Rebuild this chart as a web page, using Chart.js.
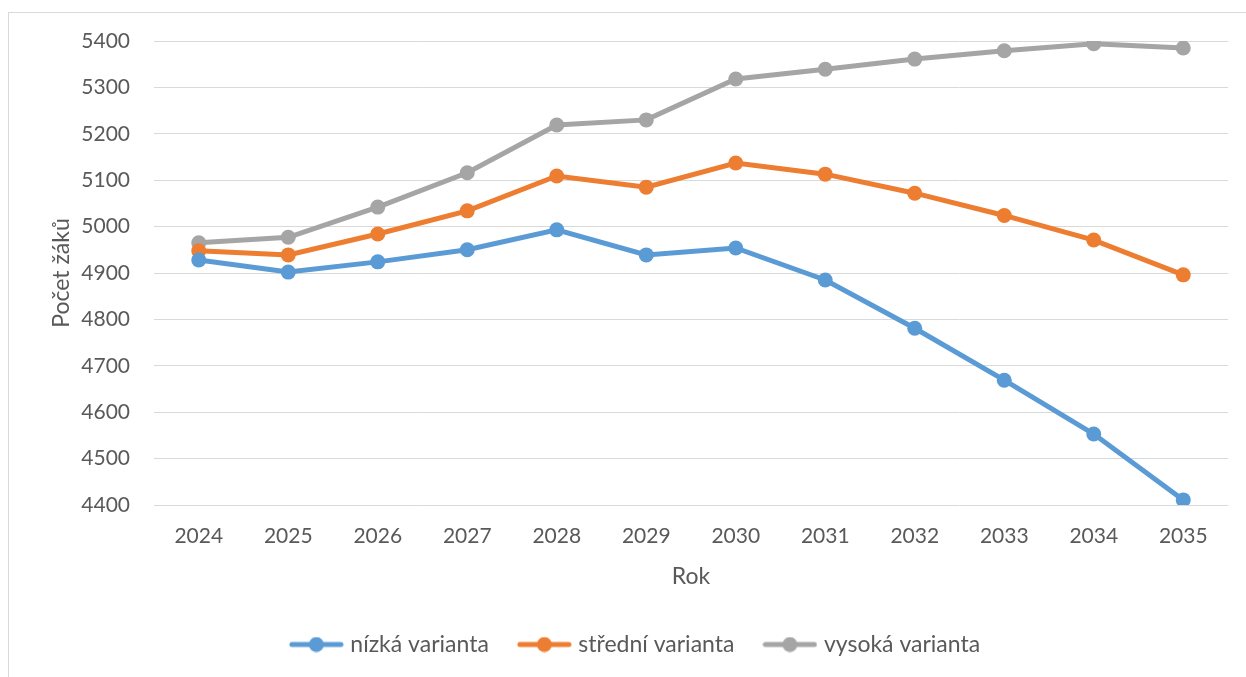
<!DOCTYPE html>
<html>
<head>
<meta charset="utf-8">
<script src="https://cdn.jsdelivr.net/npm/chart.js@4/dist/chart.umd.min.js"></script>
<style>
  html, body { margin: 0; padding: 0; background: #fff; }
  #wrap { position: relative; width: 1246px; height: 677px; }
</style>
</head>
<body>
<div id="wrap"><canvas id="graf" width="1246" height="677"></canvas></div>
<script>
  // data
  const roky = ['2024','2025','2026','2027','2028','2029','2030','2031','2032','2033','2034','2035'];
  const nizka = [4928, 4902, 4924, 4950, 4993, 4939, 4954, 4885, 4781, 4669, 4553, 4411];
  const stredni = [4948, 4939, 4984, 5034, 5109, 5085, 5137, 5113, 5072, 5024, 4971, 4896];
  const vysoka = [4965, 4977, 5042, 5116, 5219, 5230, 5318, 5339, 5361, 5379, 5394, 5385];
  const nazvy = ['nízká varianta', 'střední varianta', 'vysoká varianta'];
  const barvy = ['#5B9BD5', '#ED7D31', '#A5A5A5'];

  const FONT = 'Lato, "Open Sans", sans-serif';
  const TXT = '#595959';

  // znacka do legendy: cara s teckou jako v Excelu
  function znacka(color){
    const c = document.createElement('canvas');
    c.width = 55; c.height = 16;
    const g = c.getContext('2d');
    g.strokeStyle = color; g.lineWidth = 5; g.lineCap = 'round';
    g.beginPath(); g.moveTo(3, 8); g.lineTo(52, 8); g.stroke();
    g.fillStyle = color;
    g.beginPath(); g.arc(27.5, 8, 7.5, 0, Math.PI*2); g.fill();
    return c;
  }

  const ramecek = {
    id: 'ramecek',
    beforeDraw(chart){
      const ctx = chart.ctx;
      ctx.save();
      ctx.strokeStyle = '#d9d9d9'; ctx.lineWidth = 1;
      ctx.strokeRect(8.5, 12.5, 1400, 800);
      ctx.restore();
    }
  };

  function serie(i, data){
    return {
      label: nazvy[i], data,
      borderColor: barvy[i], backgroundColor: barvy[i],
      borderWidth: 5, pointRadius: 7.5, pointHoverRadius: 7.5,
      pointBorderWidth: 0, tension: 0, fill: false
    };
  }

  new Chart(document.getElementById('graf'), {
    type: 'line',
    data: { labels: roky, datasets: [serie(0, nizka), serie(1, stredni), serie(2, vysoka)] },
    options: {
      responsive: false, animation: false,
      layout: { padding: { top: 41, right: 18, left: 46, bottom: 11 } },
      plugins: {
        tooltip: { enabled: false },
        legend: {
          position: 'bottom',
          labels: {
            usePointStyle: true, pointStyleWidth: 45, padding: 33,
            color: TXT, font: { family: FONT, size: 23 },
            generateLabels(chart){
              return chart.data.datasets.map((ds, i) => ({
                text: ds.label, pointStyle: znacka(barvy[i]),
                fillStyle: barvy[i], strokeStyle: barvy[i], lineWidth: 0,
                fontColor: TXT, datasetIndex: i, hidden: false
              }));
            }
          }
        }
      },
      scales: {
        x: {
          offset: true,
          grid: { display: false }, border: { display: false },
          ticks: { color: TXT, font: { family: FONT, size: 21 }, padding: 11, maxRotation: 0 },
          title: { display: true, text: 'Rok', color: TXT, font: { family: FONT, size: 23 }, padding: { top: 0, bottom: 10 } },
          afterFit(s){ s.height = 95; }
        },
        y: {
          min: 4400, max: 5400,
          grid: { color: '#d9d9d9', lineWidth: 1, drawTicks: false },
          border: { display: false },
          ticks: { stepSize: 100, color: TXT, font: { family: FONT, size: 21 }, padding: 24, callback: v => String(v) },
          title: { display: true, text: 'Počet žáků', color: TXT, font: { family: FONT, size: 23 }, padding: { top: 2, bottom: 0 } },
          afterFit(s){ s.width = 108; }
        }
      }
    },
    plugins: [ramecek]
  });
</script>
</body>
</html>
